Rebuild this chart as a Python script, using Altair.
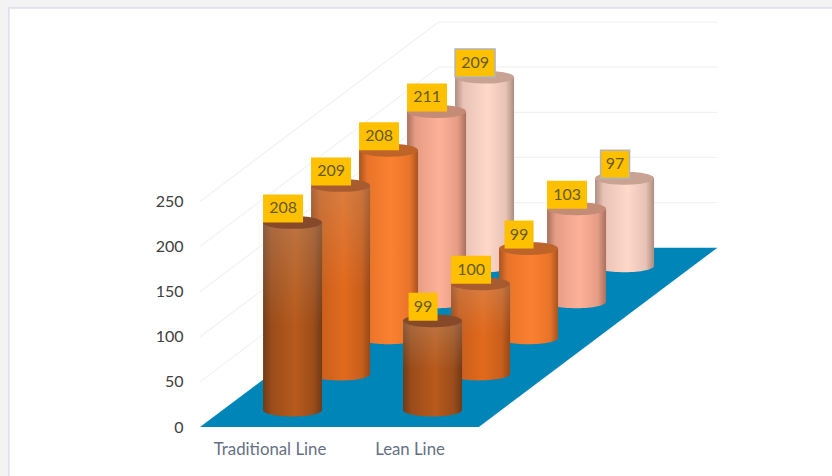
import altair as alt
import pandas as pd

# Values per production line, front row to back row
categories = ["Traditional Line", "Lean Line"]
traditional = [208, 209, 208, 211, 209]
lean = [99, 100, 99, 103, 97]
axis_ticks = [0, 50, 100, 150, 200, 250]

# Cylinder shading per row: rim, mid-tone, centre, cap, top tint opacity
rims = ["#703a18", "#96491a", "#a8541f", "#a9705d", "#ad8c80"]
mids = ["#9a4c1a", "#c85e1c", "#e8742a", "#e59c84", "#e8c2b4"]
centres = ["#b85a1c", "#e26a1e", "#fb8130", "#ffb197", "#ffd8ca"]
caps = ["#86492a", "#a95b30", "#bf6428", "#c48c76", "#c8a292"]
tints = [0.30, 0.28, 0.0, 0.0, 0.0]

# Oblique projection: one data unit on x is 48 px, one on y about 0.9 px
PX_X = 48.0
PX_Y = 406.0 / 450.0
DEPTH_X = 1.0
DEPTH_Y = 40.0
CATEGORY_GAP = 140.0 / PX_X
FRONT = 0.47
BACK = 4.97
FLOOR_W = 5.81
RADIUS = 29.5 / PX_X
ELLIPSE = "M-1,0A1,0.22,0,1,1,1,0A1,0.22,0,1,1,-1,0Z"

x_scale = alt.Scale(domain=[0, 11], range=[0, 528], nice=False, zero=False)
y_scale = alt.Scale(domain=[0, 450], range=[406, 0], nice=False, zero=False)

# Every layer shares one value axis, labelled on the front edge of the floor
y_axis = alt.Axis(values=axis_ticks, domain=False, ticks=False, grid=False, labelPadding=17, zindex=1,
                  labelFont="Lato", labelFontSize=16, labelColor="#404040", title=None)


def ex(field):
    return alt.X(field, scale=x_scale, axis=None)


def ey(field):
    return alt.Y(field, scale=y_scale, axis=y_axis)


def hgrad(stops):
    n = [alt.GradientStop(color=c, offset=o) for o, c in stops]
    return alt.LinearGradient(gradient="linear", stops=n, x1=0, x2=1, y1=0, y2=0)


def vgrad(stops):
    n = [alt.GradientStop(color=c, offset=o) for o, c in stops]
    return alt.LinearGradient(gradient="linear", stops=n, x1=0, x2=0, y1=0, y2=1)


rows = []
for c, series in enumerate([traditional, lean]):
    for d, v in enumerate(series):
        cx = (c + 0.5) * CATEGORY_GAP + (d + FRONT) * DEPTH_X
        base = (d + FRONT) * DEPTH_Y
        half = (20 if v >= 100 else 14.5) / PX_X
        lx = cx - 9.5 / PX_X
        ly = base + v + 14 / PX_Y
        rows.append(dict(depth=d, value=v, label=str(v), x=cx, x0=cx - RADIUS, x1=cx + RADIUS,
                         base=base, top=base + v, lx=lx, ly=ly, bx0=lx - half, bx1=lx + half,
                         by0=ly - 14 / PX_Y, by1=ly + 14 / PX_Y))
bars = pd.DataFrame(rows)

grid_left = pd.DataFrame([dict(x=0, x2=BACK, y=v, y2=v + BACK * DEPTH_Y) for v in axis_ticks[1:]])
grid_back = pd.DataFrame([dict(x=BACK, x2=BACK + FLOOR_W, y=v + BACK * DEPTH_Y, y2=v + BACK * DEPTH_Y)
                          for v in axis_ticks[1:]])
floor = pd.DataFrame([dict(y=0, x=0, x2=FLOOR_W),
                      dict(y=BACK * DEPTH_Y, x=BACK, x2=BACK + FLOOR_W)])
names = pd.DataFrame([dict(x=(i + 0.5) * CATEGORY_GAP, y=0, name=n) for i, n in enumerate(categories)])
ticks = pd.DataFrame({"y": axis_ticks})

layers = []

# White panel with its thin outline
layers.append(alt.Chart(ticks).mark_rect(fill="white", stroke="#dfe1ec", strokeWidth=1.5).encode(
    x=alt.value(-191), x2=alt.value(720), y=alt.value(-13), y2=alt.value(480)))

# Gridlines on the side wall and back wall
for g in (grid_left, grid_back):
    layers.append(alt.Chart(g).mark_rule(color="#f1f2f6", strokeWidth=1.2).encode(
        x=ex("x:Q"), x2="x2:Q", y=ey("y:Q"), y2="y2:Q"))

# Floor
layers.append(alt.Chart(floor).mark_area(orient="horizontal", color="#0085b8").encode(
    y=ey("y:Q"), x=ex("x:Q"), x2="x2:Q"))

# Cylinders, back row first so nearer ones overlap
for d in reversed(range(5)):
    body = hgrad([(0, rims[d]), (0.14, mids[d]), (0.55, centres[d]), (0.86, mids[d]), (1, rims[d])])
    row = bars[bars.depth == d]
    chart = alt.Chart(row)
    layers.append(chart.mark_point(filled=True, fill=body, size=59 ** 2, shape=ELLIPSE, opacity=1).encode(
        x=ex("x:Q"), y=ey("base:Q")))
    layers.append(chart.mark_rect(fill=body).encode(
        x=ex("x0:Q"), x2="x1:Q", y=ey("base:Q"), y2="top:Q"))
    if tints[d] > 0:
        tint = vgrad([(0, f"rgba(205,175,150,{tints[d]})"), (0.55, "rgba(205,175,150,0)")])
        layers.append(chart.mark_rect(fill=tint).encode(
            x=ex("x0:Q"), x2="x1:Q", y=ey("base:Q"), y2="top:Q"))
    layers.append(chart.mark_point(filled=True, fill=caps[d], size=59 ** 2, shape=ELLIPSE, opacity=1).encode(
        x=ex("x:Q"), y=ey("top:Q")))

# Value labels on gold boxes; the back row's boxes carry a grey outline
for d in reversed(range(5)):
    row = bars[bars.depth == d]
    style = dict(stroke="#b4b4b4", strokeWidth=1.5) if d == 4 else {}
    layers.append(alt.Chart(row).mark_rect(fill="#ffc000", **style).encode(
        x=ex("bx0:Q"), x2="bx1:Q", y=ey("by0:Q"), y2="by1:Q"))
    layers.append(alt.Chart(row).mark_text(font="Lato", fontSize=16, color="#665a22", baseline="middle").encode(
        x=ex("lx:Q"), y=ey("ly:Q"), text="label:N"))

# Category names below the floor
layers.append(alt.Chart(names).mark_text(font="Lato", fontSize=16.8, color="#667085", dy=23, baseline="middle").encode(
    x=ex("x:Q"), y=ey("y:Q"), text="name:N"))

chart = alt.layer(*layers).properties(
    width=528, height=406,
    padding={"left": 200, "top": 21, "right": 104, "bottom": 49},
    autosize=alt.AutoSizeParams(type="none"),
    background="#f3f3f3",
).configure_view(stroke=None)

chart.save("out.html", embed_options={"renderer": "svg", "actions": False})
